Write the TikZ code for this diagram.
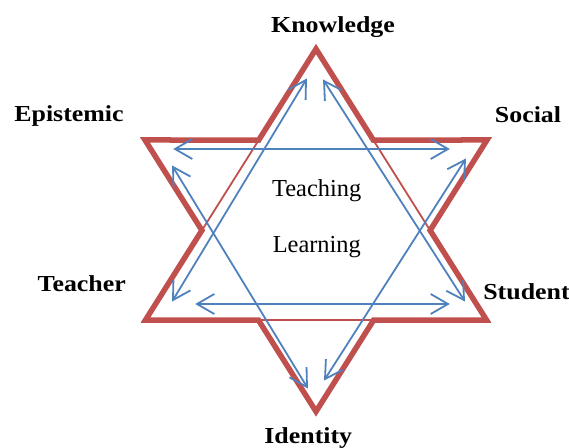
\documentclass[tikz,border=0pt]{standalone}
\usepackage{fontspec}
\setmainfont{Liberation Serif}
\newfontfamily\labelfont[FakeStretch=1.13]{Liberation Serif}
\usetikzlibrary{calc}
\definecolor{starred}{HTML}{C0504D}
\definecolor{arrowblue}{HTML}{4F81BD}
\tikzset{
  corner/.style={font=\labelfont\bfseries\fontsize{23}{23}\selectfont, anchor=base, inner sep=0pt},
  inner/.style={font=\fontsize{24.5}{24.5}\selectfont, anchor=base, inner sep=0pt},
  outline/.style={draw=starred, line width=5.5bp, line join=miter},
  hexline/.style={draw=starred, line width=1.8bp, line join=miter},
  link/.style={draw=arrowblue, line width=1.8bp, line join=miter}
}
% open V head at #1, pointing away from #2
\newcommand\openhead[2]{%
  \draw[link] ($(#1)!20bp!30:(#2)$) -- (#1) -- ($(#1)!20bp!-30:(#2)$);}
% double-headed connector between two named points
\newcommand\twoway[2]{%
  \draw[link] (#1) -- (#2);
  \openhead{#1}{#2}\openhead{#2}{#1}}
\begin{document}
\begin{tikzpicture}[x=1bp, y=-1bp]
  \useasboundingbox (0,0) rectangle (569,448);

  % triangle pointing up
  \coordinate (A) at (316,49);
  \coordinate (B) at (145.5,320);
  \coordinate (C) at (486.5,320);
  % triangle pointing down
  \coordinate (D) at (145,140);
  \coordinate (E) at (487,140);
  \coordinate (F) at (316,411.5);

  % crossing points of the two triangles
  \coordinate (P1) at (intersection of A--B and D--E);
  \coordinate (P2) at (intersection of A--B and D--F);
  \coordinate (P3) at (intersection of B--C and D--F);
  \coordinate (P4) at (intersection of B--C and E--F);
  \coordinate (P5) at (intersection of A--C and E--F);
  \coordinate (P6) at (intersection of A--C and D--E);

  % thin edges of the upward triangle, then the heavy star outline
  \path[hexline] (A) -- (B) -- (C) -- cycle;
  \path[outline] (A) -- (P1) -- (D) -- (P2) -- (B) -- (P3) -- (F)
    -- (P4) -- (C) -- (P5) -- (E) -- (P6) -- cycle;

  % arrow end points
  \coordinate (epiL) at (175,149);
  \coordinate (socR) at (448,149);
  \coordinate (teaL) at (197,304);
  \coordinate (stuR) at (448,304);
  \coordinate (knoL) at (306,80);
  \coordinate (knoR) at (324,81);
  \coordinate (teaD) at (173,300);
  \coordinate (stuD) at (464,300);
  \coordinate (epiU) at (173,167);
  \coordinate (socU) at (465,160);
  \coordinate (ideL) at (307,387);
  \coordinate (ideR) at (325,379);

  \twoway{epiL}{socR}
  \twoway{teaL}{stuR}
  \twoway{knoL}{teaD}
  \twoway{knoR}{stuD}
  \twoway{epiU}{ideL}
  \twoway{socU}{ideR}

  % labels
  \node[corner] (knowledge) at (333,33) {Knowledge};
  \node[corner] (epistemic) at (69,121.7) {Epistemic};
  \node[corner] (social) at (528,123) {Social};
  \node[corner] (teacher) at (81.7,291.7) {Teacher};
  \node[corner] (student) at (526.5,299) {Student};
  \node[corner] (identity) at (308.3,443) {Identity};
  \node[inner] (teaching) at (316.7,196.7) {Teaching};
  \node[inner] (learning) at (316.8,253) {Learning};
\end{tikzpicture}
\end{document}
